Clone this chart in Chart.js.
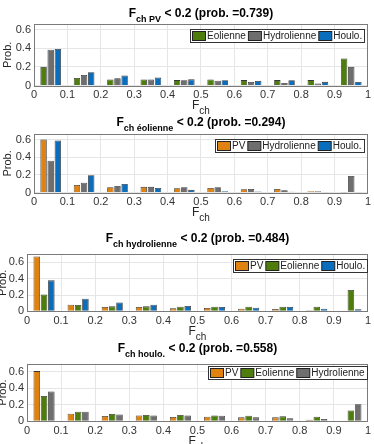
<!DOCTYPE html>
<html><head><meta charset="utf-8">
<script src="https://cdn.jsdelivr.net/npm/chart.js@4.4.1/dist/chart.umd.min.js"></script>
<style>
html,body{margin:0;padding:0;background:#fff;}
#wrap{position:relative;width:374px;height:444px;overflow:hidden;background:#fff;}
canvas{position:absolute;left:0;top:0;}
</style></head><body><div id="wrap">
<canvas id="c0" width="374" height="444"></canvas>
<canvas id="c1" width="374" height="444"></canvas>
<canvas id="c2" width="374" height="444"></canvas>
<canvas id="c3" width="374" height="444"></canvas>
</div>
<script>
// ---- data ----
const binLabels = ['0.05','0.15','0.25','0.35','0.45','0.55','0.65','0.75','0.85','0.95'];
const xTickValues = [0,0.1,0.2,0.3,0.4,0.5,0.6,0.7,0.8,0.9,1];
const yTickValues = [0,0.2,0.4,0.6];
const seriesNames = {pv:'PV', eol:'Eolienne', hyd:'Hydrolienne', hou:'Houlo.'};
const titleSubs = ['ch PV','ch éolienne','ch hydrolienne','ch houlo.'];
const titleProbs = ['0.739','0.294','0.484','0.558'];

// plot 1 : F_ch PV < 0.2
const eol1 = [0.200,0.080,0.065,0.065,0.058,0.065,0.058,0.058,0.058,0.290];
const hyd1 = [0.385,0.112,0.078,0.065,0.056,0.052,0.038,0.028,0.021,0.200];
const hou1 = [0.392,0.142,0.106,0.085,0.066,0.057,0.049,0.057,0.039,0.038];
// plot 2 : F_ch éolienne < 0.2
const pv2  = [0.600,0.086,0.060,0.064,0.049,0.052,0.037,0.041,0.015,0.001];
const hyd2 = [0.360,0.110,0.075,0.064,0.060,0.060,0.041,0.026,0.015,0.187];
const hou2 = [0.590,0.195,0.097,0.052,0.030,0.015,0.011,0.008,0.004,0.004];
// plot 3 : F_ch hydrolienne < 0.2
const pv3  = [0.673,0.081,0.053,0.053,0.036,0.040,0.032,0.028,0.012,0.002];
const eol3 = [0.207,0.077,0.061,0.061,0.057,0.057,0.057,0.057,0.057,0.263];
const hou3 = [0.380,0.154,0.109,0.081,0.065,0.053,0.045,0.053,0.032,0.024];
// plot 4 : F_ch houlo. < 0.2
const pv4  = [0.610,0.092,0.064,0.072,0.052,0.056,0.048,0.048,0.020,0.004];
const eol4 = [0.308,0.116,0.088,0.076,0.076,0.072,0.068,0.060,0.056,0.132];
const hyd4 = [0.362,0.116,0.084,0.072,0.072,0.068,0.048,0.036,0.028,0.208];

const colors = {pv:'#E0820F', eol:'#4E7D0E', hyd:'#6E6E6E', hou:'#0A6EBD'};
const FONT = '"Liberation Sans", Arial, Helvetica, sans-serif';

const plots = [
  {id:'c0', series:[['eol',eol1],['hyd',hyd1],['hou',hou1]], area:{l:34,t:24,r:368,b:85.5}, ymax:0.66, titleY:13.5, legendR:364, legendT:29, ylabX:8},
  {id:'c1', series:[['pv',pv2],['hyd',hyd2],['hou',hou2]], area:{l:34,t:134.3,r:368,b:192.5}, ymax:0.66, titleY:122.5, legendR:364, legendT:139, ylabX:8},
  {id:'c2', series:[['pv',pv3],['eol',eol3],['hou',hou3]], area:{l:27,t:254.3,r:370,b:311.3}, ymax:0.7, titleY:239, legendR:367, legendT:259, ylabX:3},
  {id:'c3', series:[['pv',pv4],['eol',eol4],['hyd',hyd4]], area:{l:27,t:363.7,r:371,b:421.3}, ymax:0.7, titleY:349, legendR:367, legendT:366, ylabX:3}
];

const XH = 14;

function drawRich(ctx, segs, cx, y){
  let total = 0;
  segs.forEach(s=>{ctx.font=s.font; s.w=ctx.measureText(s.t).width; total+=s.w;});
  let x = cx - total/2;
  ctx.textAlign='left'; ctx.textBaseline='middle';
  segs.forEach(s=>{ctx.font=s.font; ctx.fillText(s.t, x, y+(s.dy||0)); x+=s.w;});
}

function decorPlugin(p, idx){
  return {
    id:'decor'+idx,
    afterDraw(chart){
      const ctx = chart.ctx, a = chart.chartArea;
      ctx.save();
      // box
      ctx.strokeStyle='#7a7a7a'; ctx.lineWidth=1;
      ctx.strokeRect(Math.round(a.left)+0.5, Math.round(a.top)+0.5, Math.round(a.right)-Math.round(a.left)-1, Math.round(a.bottom)-Math.round(a.top));
      const cx = (a.left+a.right)/2;
      // title
      ctx.fillStyle='#000';
      drawRich(ctx, [
        {t:'F', font:'bold 12px '+FONT},
        {t:titleSubs[idx], font:'bold 9px '+FONT, dy:6},
        {t:' < 0.2 (prob. ='+titleProbs[idx]+')', font:'bold 12px '+FONT}
      ], cx, p.titleY);
      // x label
      ctx.fillStyle='#262626';
      drawRich(ctx, [
        {t:'F', font:'12px '+FONT},
        {t:'ch', font:'10px '+FONT, dy:6}
      ], cx, a.bottom+20);
      // y label
      ctx.save();
      ctx.translate(p.ylabX, (a.top+a.bottom)/2);
      ctx.rotate(-Math.PI/2);
      ctx.font='11px '+FONT; ctx.textAlign='center'; ctx.textBaseline='middle';
      ctx.fillText('Prob.', 0, 0);
      ctx.restore();
      // legend
      ctx.font='10px '+FONT;
      const sw=13, sh=9, h=13;
      const items = chart.data.datasets.map(d=>({label:d.label, color:d.backgroundColor, w:ctx.measureText(d.label).width}));
      let width = 2;
      items.forEach((it)=>{ width += sw + 2 + it.w + 2; });
      const lx = p.legendR - width, ly = p.legendT;
      ctx.fillStyle='#fff';
      ctx.fillRect(Math.round(lx)+0.5, Math.round(ly)+0.5, Math.round(width), h);
      ctx.strokeStyle='#333'; ctx.lineWidth=1;
      ctx.strokeRect(Math.round(lx)+0.5, Math.round(ly)+0.5, Math.round(width), h);
      let x = Math.round(lx)+2;
      items.forEach(it=>{
        ctx.fillStyle=it.color;
        ctx.fillRect(x+0.5, Math.round(ly)+2.5, sw, sh);
        ctx.strokeStyle='#222';
        ctx.strokeRect(x+0.5, Math.round(ly)+2.5, sw, sh);
        x += sw+2;
        ctx.fillStyle='#222'; ctx.textAlign='left'; ctx.textBaseline='middle';
        ctx.fillText(it.label, x, ly+h/2+1);
        x += it.w+2;
      });
      ctx.restore();
    }
  };
}

plots.forEach((p, idx)=>{
  const el = document.getElementById(p.id);
  new Chart(el, {
    type:'bar',
    data:{
      labels: binLabels,
      datasets: p.series.map(([k,arr])=>({
        label: seriesNames[k], data: arr,
        backgroundColor: colors[k], borderColor:'rgba(20,20,20,0.85)', borderWidth:0.8,
        categoryPercentage:0.64, barPercentage:0.9
      }))
    },
    options:{
      responsive:false, animation:false, devicePixelRatio:1,
      layout:{padding:{left:0, top:p.area.t, right:374-p.area.r, bottom:444-p.area.b-XH}},
      plugins:{legend:{display:false}, title:{display:false}, tooltip:{enabled:false}},
      scales:{
        x:{type:'category', display:false, offset:true, grid:{display:false}},
        x2:{type:'linear', position:'bottom', min:0, max:1, offset:false,
          afterBuildTicks:s=>{ s.ticks = xTickValues.map(v=>({value:v})); },
          afterFit:s=>{ s.height = XH; },
          grid:{color:'#e6e6e6', drawTicks:false, lineWidth:1, offset:false},
          border:{display:false},
          ticks:{padding:3, color:'#333', font:{family:FONT, size:11}, maxRotation:0, autoSkip:false,
            callback:v=>String(Math.round(v*10)/10)}
        },
        y:{type:'linear', min:0, max:p.ymax,
          afterBuildTicks:s=>{ s.ticks = yTickValues.map(v=>({value:v})); },
          afterFit:s=>{ s.width = p.area.l; },
          grid:{color:'#e6e6e6', drawTicks:false, lineWidth:1},
          border:{display:false},
          ticks:{padding:3, color:'#333', font:{family:FONT, size:11},
            callback:v=>String(Math.round(v*10)/10)}
        }
      }
    },
    plugins:[decorPlugin(p, idx)]
  });
});
</script>
</body></html>
